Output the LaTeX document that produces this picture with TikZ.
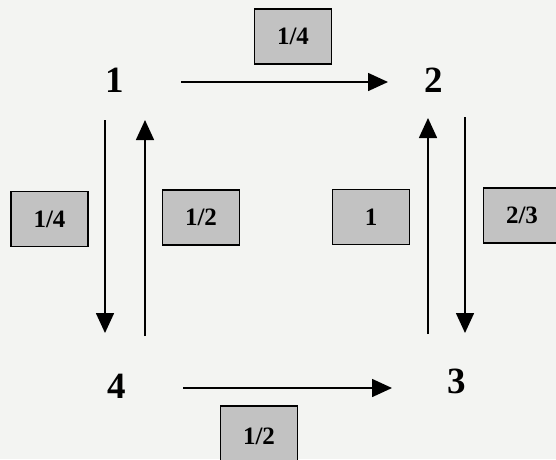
\documentclass[tikz,border=0pt]{standalone}
\usepackage{fontspec}
\setmainfont{Liberation Serif}
\usetikzlibrary{arrows.meta}
\definecolor{paper}{HTML}{F3F4F2}
\definecolor{boxgray}{HTML}{C2C2C2}
\tikzset{
  num/.style={font=\fontsize{37}{40}\selectfont\bfseries, inner sep=0pt},
  valbox/.style={draw=black, line width=1.4pt, fill=boxgray, minimum width=77pt, minimum height=55pt, inner sep=0pt, font=\fontsize{25}{28}\selectfont\bfseries},
  arr/.style={line width=1.6pt, -{Triangle[length=20pt,width=18pt]}}
}
\begin{document}
\begin{tikzpicture}[x=1pt,y=-1pt]
\useasboundingbox (0,0) rectangle (556,459);
\fill[paper] (0,0) rectangle (556,459);
\clip (0,0) rectangle (556,459);
% corner labels
\node[num] (n1) at (115,80) {1};
\node[num] (n2) at (434,80) {2};
\node[num] (n3) at (457,381) {3};
\node[num] (n4) at (117,386) {4};
% value boxes
\node[valbox] (btop) at (293,36.5) {1/4};
\node[valbox] (bleft) at (49.5,219) {1/4};
\node[valbox] (bmidl) at (201,217.5) {1/2};
\node[valbox] (bmidr) at (371,217) {1};
\node[valbox] (bright) at (522,215.5) {2/3};
\node[valbox, minimum height=60pt] (bbot) at (259,436) {1/2};
% arrow end points
\coordinate (a12s) at (181,82);  \coordinate (a12e) at (388,82);
\coordinate (a14s) at (105,120); \coordinate (a14e) at (105,333);
\coordinate (a41s) at (145,336); \coordinate (a41e) at (145,120);
\coordinate (a32s) at (428,334); \coordinate (a32e) at (428,118);
\coordinate (a23s) at (465,117); \coordinate (a23e) at (465,333);
\coordinate (a43s) at (183,388); \coordinate (a43e) at (392,388);
\draw[arr] (a12s) -- (a12e);
\draw[arr] (a14s) -- (a14e);
\draw[arr] (a41s) -- (a41e);
\draw[arr] (a32s) -- (a32e);
\draw[arr] (a23s) -- (a23e);
\draw[arr] (a43s) -- (a43e);
\end{tikzpicture}
\end{document}
